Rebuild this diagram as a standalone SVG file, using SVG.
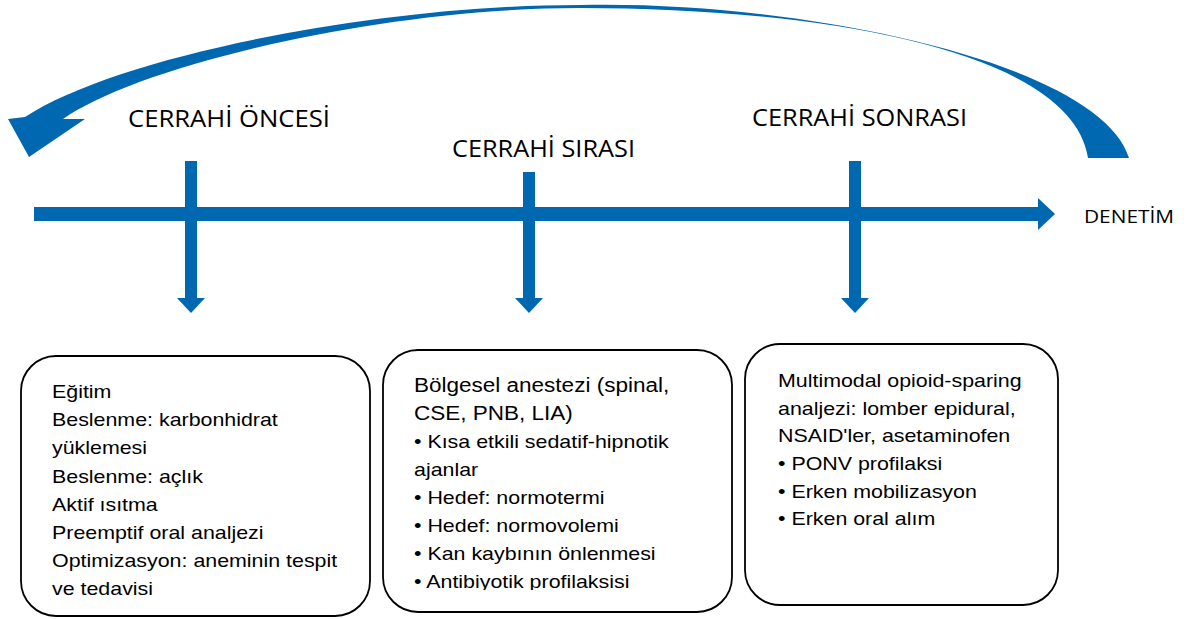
<svg xmlns="http://www.w3.org/2000/svg" width="1190" height="619" viewBox="0 0 1190 619">
  <style>
    .blue { fill: #0067b1; }
    .head { font-family: "Open Sans", "Liberation Sans", sans-serif; font-size: 23.5px; fill: #000; }
    .box { fill: #fff; stroke: #000; stroke-width: 1.8; }
    .txt { font-family: "Liberation Sans", Arial, sans-serif; font-size: 19px; fill: #000; }
    .big { font-size: 20px; }
  </style>
  <defs>
    <clipPath id="clip2"><rect x="380" y="340" width="360" height="250"/></clipPath>
  </defs>
  <rect width="1190" height="619" fill="#fff"/>

  <g id="connectors">
    <path id="cycle-arrow" class="blue" d="M 1129,158 C 1100,62 800,0 580,5 C 380,5 120,55 25,117 L 8,119 L 29,157 L 85,119 L 63,119 C 140,65 380,8 580,8 C 820,8 1072,50 1088,158 Z"/>
    <g id="timeline">
      <rect class="blue" x="34" y="207" width="1004" height="14"/>
      <polygon class="blue" points="1038,198 1055,214 1038,230"/>
    </g>
    <g id="arrow-pre">
      <rect class="blue" x="185" y="161" width="12" height="138"/>
      <polygon class="blue" points="177,298 205,298 191,313"/>
    </g>
    <g id="arrow-intra">
      <rect class="blue" x="523" y="172" width="12" height="127"/>
      <polygon class="blue" points="515,298 543,298 529,313"/>
    </g>
    <g id="arrow-post">
      <rect class="blue" x="849" y="161" width="12" height="138"/>
      <polygon class="blue" points="841,298 869,298 855,313"/>
    </g>
  </g>

  <g id="labels">
    <text class="head" x="128" y="127" textLength="202" lengthAdjust="spacingAndGlyphs">CERRAHİ ÖNCESİ</text>
    <text class="head" x="452" y="157" textLength="183" lengthAdjust="spacingAndGlyphs">CERRAHİ SIRASI</text>
    <text class="head" x="752" y="126" textLength="215" lengthAdjust="spacingAndGlyphs">CERRAHİ SONRASI</text>
    <text class="head" x="1084" y="223" style="font-size:19px" textLength="90" lengthAdjust="spacingAndGlyphs">DENETİM</text>
  </g>

  <g id="node-pre">
    <rect class="box" x="21" y="356" width="349" height="260" rx="35" ry="35"/>
    <g transform="translate(52,0) scale(1.126,1)">
      <text class="txt" x="0" y="398">Eğitim</text>
      <text class="txt" x="0" y="426">Beslenme: karbonhidrat</text>
      <text class="txt" x="0" y="454">yüklemesi</text>
      <text class="txt" x="0" y="483">Beslenme: açlık</text>
      <text class="txt" x="0" y="511">Aktif ısıtma</text>
      <text class="txt" x="0" y="539">Preemptif oral analjezi</text>
      <text class="txt" x="0" y="567">Optimizasyon: aneminin tespit</text>
      <text class="txt" x="0" y="595">ve tedavisi</text>
    </g>
  </g>

  <g id="node-intra">
    <rect class="box" x="383" y="350" width="349" height="262" rx="35" ry="35"/>
    <g clip-path="url(#clip2)">
      <g transform="translate(414,0) scale(1.126,1)">
        <text class="txt big" x="0" y="392">Bölgesel anestezi (spinal,</text>
        <text class="txt big" x="0" y="420">CSE, PNB, LIA)</text>
        <text class="txt" x="0" y="448">• Kısa etkili sedatif-hipnotik</text>
        <text class="txt" x="0" y="476">ajanlar</text>
        <text class="txt" x="0" y="504">• Hedef: normotermi</text>
        <text class="txt" x="0" y="532">• Hedef: normovolemi</text>
        <text class="txt" x="0" y="560">• Kan kaybının önlenmesi</text>
        <text class="txt" x="0" y="588">• Antibiyotik profilaksisi</text>
      </g>
    </g>
  </g>

  <g id="node-post">
    <rect class="box" x="745" y="344" width="313" height="261" rx="35" ry="35"/>
    <g transform="translate(778,0) scale(1.126,1)">
      <text class="txt" x="0" y="387">Multimodal opioid-sparing</text>
      <text class="txt" x="0" y="415">analjezi: lomber epidural,</text>
      <text class="txt" x="0" y="442">NSAID'ler, asetaminofen</text>
      <text class="txt" x="0" y="470">• PONV profilaksi</text>
      <text class="txt" x="0" y="498">• Erken mobilizasyon</text>
      <text class="txt" x="0" y="525">• Erken oral alım</text>
    </g>
  </g>
</svg>
